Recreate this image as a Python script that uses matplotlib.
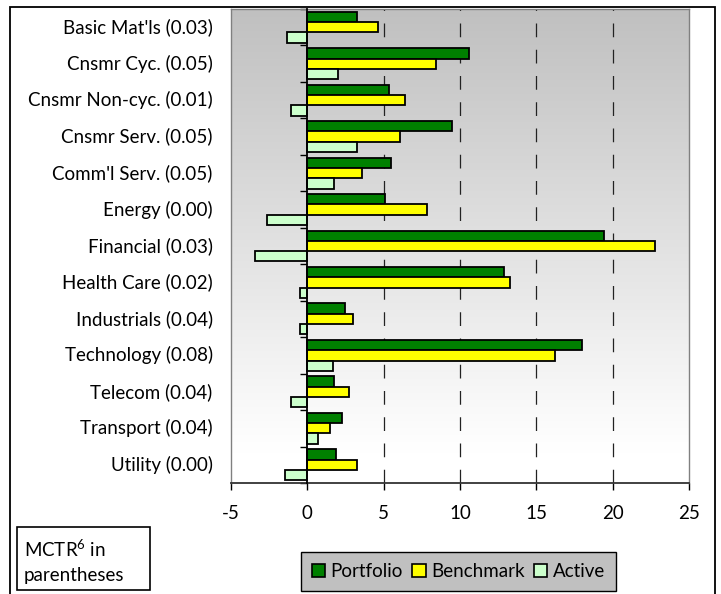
import matplotlib
matplotlib.use("Agg")
import matplotlib.pyplot as plt
import matplotlib.patches as patches
from matplotlib.transforms import blended_transform_factory
import numpy as np

plt.rcParams['font.family'] = ['Lato', 'DejaVu Sans']
plt.rcParams['mathtext.default'] = 'regular'
plt.rcParams['axes.unicode_minus'] = False

# sector exposures (%), top to bottom
sectors = ["Basic Mat'ls", "Cnsmr Cyc.", "Cnsmr Non-cyc.", "Cnsmr Serv.",
           "Comm'l Serv.", "Energy", "Financial", "Health Care",
           "Industrials", "Technology", "Telecom", "Transport", "Utility"]
mctr = ["0.03", "0.05", "0.01", "0.05", "0.05", "0.00", "0.03", "0.02",
        "0.04", "0.08", "0.04", "0.04", "0.00"]
portfolio = [3.24, 10.57, 5.34, 9.45, 5.47, 5.12, 19.44, 12.9, 2.49, 17.98, 1.77, 2.25, 1.88]
benchmark = [4.62, 8.44, 6.37, 6.10, 3.61, 7.83, 22.79, 13.25, 2.97, 16.23, 2.76, 1.51, 3.24]
active = [-1.36, 1.99, -1.07, 3.24, 1.77, -2.67, -3.43, -0.46, -0.46, 1.66, -1.09, 0.68, -1.47]

series = [("Portfolio", portfolio, "#008000"),
          ("Benchmark", benchmark, "#ffff00"),
          ("Active", active, "#ccffcc")]

FS = 13.5

fig = plt.figure(figsize=(7.21, 5.94), dpi=100)
ax = fig.add_axes([231 / 721, 111 / 594, 458 / 721, 474 / 594])

xmin, xmax = -5, 25
n = len(sectors)
ax.set_xlim(xmin, xmax)
ax.set_ylim(n - 0.5, -0.5)

# vertical grey-to-white gradient behind the bars
g = np.linspace(0, 1, 200)
shade = np.clip(192 + (255 - 192) * g / 0.93, 0, 255) / 255.0
grad = np.repeat(shade[:, None], 2, axis=1)
ax.imshow(np.dstack([grad, grad, grad]), extent=[xmin, xmax, n - 0.5, -0.5],
          aspect='auto', zorder=0, interpolation='bicubic')

y = np.arange(n)
h = 0.283
for i, (name, vals, col) in enumerate(series):
    ax.barh(y + (i - 1) * h, vals, height=h, color=col, edgecolor='black',
            linewidth=1.3, zorder=3, label=name)

# dashed gridlines
for gx in [5, 10, 15, 20]:
    ax.axvline(gx, color='#222222', linewidth=0.9, dashes=(11, 10), zorder=1)

# y-axis sits at zero with ticks between the sectors
for side in ['top', 'right']:
    ax.spines[side].set_color('#808080')
    ax.spines[side].set_linewidth(1.0)
ax.spines['left'].set_position(('data', 0))
ax.spines['left'].set_linewidth(1.3)
ax.spines['left'].set_zorder(4)
ax.spines['bottom'].set_linewidth(1.3)
ax.spines['bottom'].set_color('#333333')
ax.plot([xmin, xmin], [-0.5, n - 0.5], color='#808080', linewidth=1.0,
        clip_on=False, zorder=2)

ax.set_yticks(np.arange(n + 1) - 0.5)
ax.set_yticklabels([])
ax.tick_params(axis='y', direction='out', length=5, width=1.0)
ax.set_xticks(np.arange(xmin, xmax + 1, 5))
ax.tick_params(axis='x', direction='out', length=5, width=1.0, pad=11,
               labelsize=FS)

tr = blended_transform_factory(ax.transAxes, ax.transData)
for yi, (s, m) in enumerate(zip(sectors, mctr)):
    ax.text(-0.04, yi, f"{s} ({m})", transform=tr, ha='right', va='center',
            fontsize=FS)

# legend
handles = [patches.Patch(facecolor=c, edgecolor='black', linewidth=1.2, label=nm)
           for nm, _, c in series]
leg = fig.legend(handles=handles, loc='center', bbox_to_anchor=(0.636, 0.038),
                 ncol=3, fontsize=FS, frameon=True, fancybox=False,
                 handlelength=0.7, handleheight=0.7, handletextpad=0.3,
                 columnspacing=0.5, borderpad=0.6, borderaxespad=0)
leg.get_frame().set_facecolor('#c0c0c0')
leg.get_frame().set_edgecolor('#000000')
leg.get_frame().set_linewidth(1.0)
leg.get_frame().set_alpha(1)

# note box
fig.patches.append(patches.Rectangle((17 / 721, 4 / 594), 133 / 721, 63 / 594,
                                     transform=fig.transFigure, facecolor='white',
                                     edgecolor='black', linewidth=1.2))
fig.text(24 / 721, 33 / 594, "MCTR$^{6}$ in\nparentheses", fontsize=FS,
         ha='left', va='center', linespacing=1.5)

# outer frame
fig.patches.append(patches.Rectangle((10 / 721, -0.05), 705 / 721, 1.05 - 7 / 594,
                                     transform=fig.transFigure, fill=False,
                                     edgecolor='black', linewidth=1.3))

fig.savefig("out.png", dpi=100)
